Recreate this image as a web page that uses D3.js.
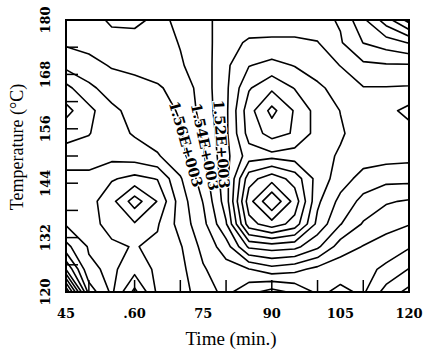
<!DOCTYPE html>
<html>
<head>
<meta charset="utf-8">
<script src="https://cdn.jsdelivr.net/npm/d3@7"></script>
<style>
  html, body { margin: 0; padding: 0; background: #fff; }
  svg { display: block; }
</style>
</head>
<body>
<svg id="chart" width="423" height="359"></svg>
<script>
// ---------- data ----------
const times = [45, 50, 55, 60, 65, 70, 75, 80, 85, 90, 95, 100, 105, 110, 115, 120];   // Time (min.)
const temps = [180, 175, 170, 165, 160, 155, 150, 145, 140, 135, 130, 125, 120];       // Temperature (°C), top row first

// response values, one row per temperature
const row180 = [1550, 1550, 1564, 1566, 1554, 1528, 1524, 1514, 1512, 1512, 1512, 1514, 1522, 1556, 1590, 1628];
const row175 = [1557, 1552, 1551, 1550, 1548, 1539, 1528, 1508, 1497, 1496, 1496, 1499, 1518, 1540.5, 1550, 1561];
const row170 = [1574, 1568, 1558, 1554, 1552, 1542, 1530, 1504, 1481, 1474, 1481, 1490, 1500.5, 1516, 1518, 1518];
const row165 = [1606, 1584, 1572, 1568, 1562, 1554, 1530, 1504, 1462, 1444, 1461, 1476, 1488, 1499, 1499, 1498];
const row160 = [1626, 1606, 1584, 1574, 1568, 1558, 1532, 1504, 1448, 1414, 1442, 1468, 1480.4, 1488, 1486, 1474];
const row155 = [1608, 1601, 1588, 1578, 1570, 1562, 1538, 1504, 1452, 1432, 1442, 1468, 1478, 1488, 1488, 1488];
const row150 = [1590, 1590, 1594, 1590, 1582, 1566, 1542, 1506, 1470, 1466, 1470, 1474, 1482, 1490, 1492, 1494];
const row145 = [1606, 1606, 1618, 1626, 1619, 1582, 1550, 1508, 1428, 1408, 1428, 1468, 1490, 1508, 1514, 1514];
const row140 = [1610, 1612, 1634, 1670, 1639, 1590, 1559, 1510, 1408, 1361, 1408, 1476, 1506, 1526, 1538, 1542];
const row135 = [1618, 1614, 1626, 1638, 1622, 1592, 1566, 1522, 1428, 1408, 1428, 1486, 1519, 1542, 1552, 1559];
const row130 = [1646, 1618, 1617, 1621, 1616, 1602, 1574, 1550, 1496, 1490, 1494, 1516, 1550, 1561, 1570, 1578];
const row125 = [1700, 1624, 1616, 1632, 1616, 1606, 1582, 1568, 1561, 1548, 1554, 1566, 1572, 1574, 1584, 1601];
const row120 = [1800, 1652, 1616, 1666, 1616, 1608, 1590, 1574, 1594, 1608, 1596, 1576, 1584, 1577, 1608, 1626];

const levels = d3.range(1380, 1781, 20);

const xTickValues = [45, 60, 75, 90, 105, 120];
const xTickLabels = ["45", ".60", "75", "90", "105", "120"];
const yTickValues = [120, 132, 144, 156, 168, 180];
const yTickLabels = ["120", "132", "144", "156", "168", "180"];
const xInnerTicks = [50, 60, 70, 80, 90, 100, 110];
const yInnerTicks = [126, 132, 138, 144, 150, 156, 162, 168, 174];

const labelTexts = ["1.56E+003", "1.54E+003", "1.52E+003"];
const labelTimes = [71.2, 75.4, 79.0];
const labelTemps = [152.6, 152.0, 152.6];
const labelAngles = [74, 78, 86];

const xTitle = "Time (min.)";
const yTitle = "Temperature (°C)";

// ---------- drawing ----------
const grid = [row180, row175, row170, row165, row160, row155, row150, row145, row140, row135, row130, row125, row120];
const svg = d3.select("#chart");
const x = d3.scaleLinear().domain([45, 120]).range([66, 409]);
const y = d3.scaleLinear().domain([120, 180]).range([292, 20]);
const serif = "'Liberation Serif', 'DejaVu Serif', 'Times New Roman', serif";
const boldSerif = "'DejaVu Serif', 'Liberation Serif', serif";

svg.append("defs").append("clipPath").attr("id", "plotClip")
  .append("rect").attr("x", x(45)).attr("y", y(180))
  .attr("width", x(120) - x(45)).attr("height", y(120) - y(180));

const nx = times.length, ny = temps.length;
const dt = times[1] - times[0];
const dT = temps[0] - temps[1];
const contours = d3.contours().size([nx, ny]).thresholds(levels)(grid.flat());
const proj = d3.geoTransform({
  point(px, py) {
    this.stream.point(x(times[0] + (px - 0.5) * dt), y(temps[0] - (py - 0.5) * dT));
  }
});
const path = d3.geoPath(proj);

svg.append("g").attr("clip-path", "url(#plotClip)")
  .selectAll("path").data(contours).join("path")
  .attr("d", path)
  .attr("fill", "none")
  .attr("stroke", "#000")
  .attr("stroke-width", 1.6)
  .attr("stroke-linejoin", "round");

// inner ticks
const tickG = svg.append("g").attr("stroke", "#000").attr("stroke-width", 1.5);
tickG.selectAll(".xt").data(xInnerTicks).join("line")
  .attr("x1", d => x(d)).attr("x2", d => x(d))
  .attr("y1", y(120)).attr("y2", y(120) - 12);
tickG.selectAll(".yt").data(yInnerTicks).join("line")
  .attr("x1", x(45)).attr("x2", x(45) + 12)
  .attr("y1", d => y(d)).attr("y2", d => y(d));

// frame
svg.append("rect")
  .attr("x", x(45)).attr("y", y(180))
  .attr("width", x(120) - x(45)).attr("height", y(120) - y(180))
  .attr("fill", "none").attr("stroke", "#000").attr("stroke-width", 2);

// tick labels
svg.append("g").selectAll("text").data(xTickValues).join("text")
  .attr("x", d => x(d)).attr("y", 318)
  .attr("text-anchor", "middle")
  .attr("font-family", boldSerif).attr("font-weight", "bold").attr("font-size", 13)
  .text((d, i) => xTickLabels[i]);

svg.append("g").selectAll("text").data(yTickValues).join("text")
  .attr("transform", d => `translate(50,${y(d)}) rotate(-90)`)
  .attr("text-anchor", "middle")
  .attr("font-family", boldSerif).attr("font-weight", "bold").attr("font-size", 13)
  .text((d, i) => yTickLabels[i]);

// axis titles
svg.append("text")
  .attr("x", 231).attr("y", 345)
  .attr("text-anchor", "middle")
  .attr("font-family", serif).attr("font-size", 19)
  .text(xTitle);

svg.append("text")
  .attr("transform", `translate(23,147) rotate(-90)`)
  .attr("text-anchor", "middle")
  .attr("font-family", serif).attr("font-size", 18)
  .text(yTitle);

// contour labels
svg.append("g").selectAll("text").data(labelTexts).join("text")
  .attr("transform", (d, i) => `translate(${x(labelTimes[i])},${y(labelTemps[i])}) rotate(${labelAngles[i]})`)
  .attr("text-anchor", "middle")
  .attr("dy", "0.35em")
  .attr("font-family", boldSerif).attr("font-weight", "bold").attr("font-size", 14.5)
  .attr("fill", "#000")
  .attr("stroke", "#fff").attr("stroke-width", 2.5).attr("paint-order", "stroke")
  .text(d => d);
</script>
</body>
</html>
